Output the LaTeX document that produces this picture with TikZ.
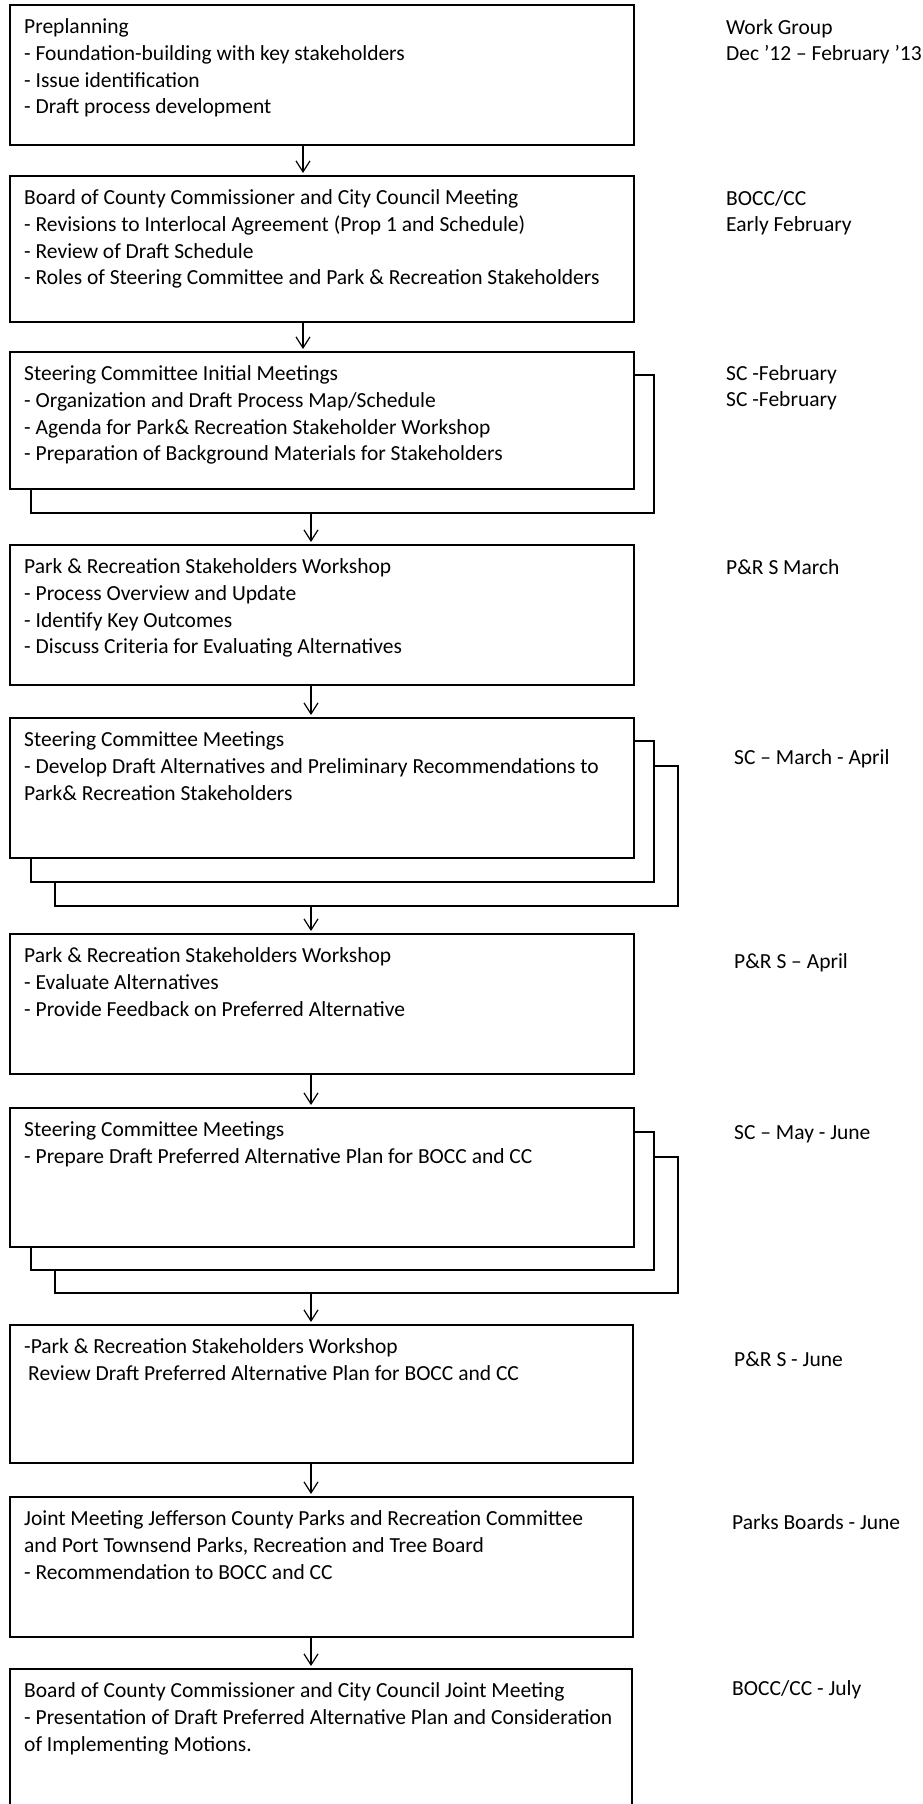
\documentclass[tikz,border=0pt]{standalone}
\usepackage{fontspec}
\setmainfont{Carlito}
\usetikzlibrary{arrows.meta}
\tikzset{
  bx/.style={draw, line width=1.5pt, fill=white, inner sep=0pt, outer sep=0pt, anchor=north west},
  txt/.style={anchor=base west, inner sep=0pt, align=left, font=\fontsize{21.5}{26.8}\selectfont},
  lbl/.style={anchor=base west, inner sep=0pt, align=left, font=\fontsize{21.5}{26.8}\selectfont},
  arr/.style={line width=1.2pt, -{Straight Barb[length=11pt,width=14pt,line width=1.2pt]}, shorten >=3pt}
}
\newcommand\mkbox[5]{\node[bx, minimum width={#4-#2}, minimum height={#5-#3}] (#1) at (#2,#3) {};}
% node name, box name, number of lines, text (base anchor = last line)
\newcommand\btxt[4]{\node[txt] (#1) at ([shift={(14,{28.5+(#3-1)*26.8})}]#2.north west) {#4};}
\newcommand\rlbl[5]{\node[lbl] (#1) at (#2,{#3+(#4-1)*26.8}) {#5};}
\begin{document}
\begin{tikzpicture}[x=1pt,y=-1pt]
\useasboundingbox[fill=white] (0,0) rectangle (922,1804);

% boxes (back layers first)
\mkbox{b1}{10}{5}{634}{145}
\mkbox{b2}{10}{176}{634}{322}
\mkbox{b3b}{31}{375}{654}{513}
\mkbox{b3}{10}{352}{634}{489}
\mkbox{b4}{10}{545}{634}{685}
\mkbox{b5c}{55}{766}{678}{906}
\mkbox{b5b}{31}{741}{654}{882}
\mkbox{b5}{10}{718}{634}{858}
\mkbox{b6}{10}{934}{634}{1074}
\mkbox{b7c}{55}{1157}{678}{1293}
\mkbox{b7b}{31}{1132}{654}{1270}
\mkbox{b7}{10}{1108}{634}{1247}
\mkbox{b8}{10}{1325}{633}{1463}
\mkbox{b9}{10}{1497}{633}{1637}
\mkbox{b10}{10}{1669}{632}{1830}

% texts
\btxt{t1}{b1}{4}{Preplanning\\- Foundation-building with key stakeholders\\- Issue identification\\- Draft process development}
\btxt{t2}{b2}{4}{Board of County Commissioner and City Council Meeting\\- Revisions to Interlocal Agreement (Prop 1 and Schedule)\\- Review of Draft Schedule\\- Roles of Steering Committee and Park \& Recreation Stakeholders}
\btxt{t3}{b3}{4}{Steering Committee Initial Meetings\\- Organization and Draft Process Map/Schedule\\- Agenda for Park\& Recreation Stakeholder Workshop\\- Preparation of Background Materials for Stakeholders}
\btxt{t4}{b4}{4}{Park \& Recreation Stakeholders Workshop\\- Process Overview and Update\\- Identify Key Outcomes\\- Discuss Criteria for Evaluating Alternatives}
\btxt{t5}{b5}{3}{Steering Committee Meetings\\- Develop Draft Alternatives and Preliminary Recommendations to\\Park\& Recreation Stakeholders}
\btxt{t6}{b6}{3}{Park \& Recreation Stakeholders Workshop\\- Evaluate Alternatives\\- Provide Feedback on Preferred Alternative}
\btxt{t7}{b7}{2}{Steering Committee Meetings\\- Prepare Draft Preferred Alternative Plan for BOCC and CC}
\btxt{t8}{b8}{2}{-Park \& Recreation Stakeholders Workshop\\\hspace*{4pt}Review Draft Preferred Alternative Plan for BOCC and CC}
\btxt{t9}{b9}{3}{Joint Meeting Jefferson County Parks and Recreation Committee\\and Port Townsend Parks, Recreation and Tree Board\\- Recommendation to BOCC and CC}
\btxt{t10}{b10}{3}{Board of County Commissioner and City Council Joint Meeting\\- Presentation of Draft Preferred Alternative Plan and Consideration\\of Implementing Motions.}

% right labels
\rlbl{l1}{726}{34}{2}{Work Group\\Dec '12 -- February '13}
\rlbl{l2}{726}{205}{2}{BOCC/CC\\Early February}
\rlbl{l3}{726}{380}{2}{SC -February\\SC -February}
\rlbl{l4}{726}{574}{1}{P\&R S March}
\rlbl{l5}{734}{764}{1}{SC -- March - April}
\rlbl{l6}{734}{968}{1}{P\&R S -- April}
\rlbl{l7}{734}{1139}{1}{SC -- May - June}
\rlbl{l8}{734}{1366}{1}{P\&R S - June}
\rlbl{l9}{732}{1529}{1}{Parks Boards - June}
\rlbl{l10}{732}{1695}{1}{BOCC/CC - July}

% arrow columns
\coordinate (ca) at (303,0);
\coordinate (cb) at (311,0);
\draw[arr] (b1.south -| ca) -- (b2.north -| ca);
\draw[arr] (b2.south -| ca) -- (b3.north -| ca);
\draw[arr] (b3b.south -| cb) -- (b4.north -| cb);
\draw[arr] (b4.south -| cb) -- (b5.north -| cb);
\draw[arr] (b5c.south -| cb) -- (b6.north -| cb);
\draw[arr] (b6.south -| cb) -- (b7.north -| cb);
\draw[arr] (b7c.south -| cb) -- (b8.north -| cb);
\draw[arr] (b8.south -| cb) -- (b9.north -| cb);
\draw[arr] (b9.south -| cb) -- (b10.north -| cb);
\end{tikzpicture}
\end{document}
